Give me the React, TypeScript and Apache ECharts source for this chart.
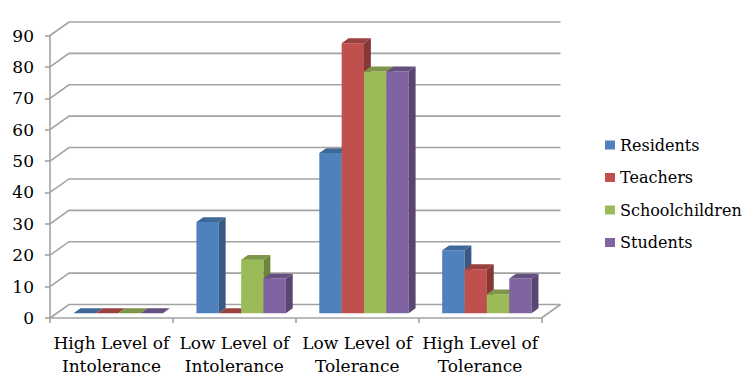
import React, { useEffect, useRef } from "react";
import * as echarts from "echarts";

const categories = [
  "High Level of\nIntolerance",
  "Low Level of\nIntolerance",
  "Low Level of\nTolerance",
  "High Level of\nTolerance",
];
const seriesNames = ["Residents", "Teachers", "Schoolchildren", "Students"];
const residents = [0, 29, 51, 20];
const teachers = [0, 0, 86, 14];
const schoolchildren = [0, 17, 77, 6];
const students = [0, 11, 77, 11];
const seriesValues = [residents, teachers, schoolchildren, students];
const yTicks = [0, 10, 20, 30, 40, 50, 60, 70, 80, 90];
const colors = ["#4F81BD", "#C0504D", "#9BBB59", "#8064A2"];

const DX = 19;
const DY = -13.5;
const BAR_DEPTH = 0.36;
const BAR_FRAC = 0.182;
const LINE_COLOR = "#A3A3A3";
const FONT = "DejaVu Serif";
const FS = 17;
const LEGEND_FS = 16;

function shade(hex: string, f: number): string {
  const n = parseInt(hex.slice(1), 16);
  const r = Math.round(((n >> 16) & 255) * f);
  const g = Math.round(((n >> 8) & 255) * f);
  const b = Math.round((n & 255) * f);
  return "rgb(" + r + "," + g + "," + b + ")";
}

export default function App() {
  const ref = useRef<HTMLDivElement>(null);
  useEffect(() => {
    if (!ref.current) return;
    const chart = echarts.init(ref.current, undefined, { renderer: "svg" });

    const barSeries = seriesNames.map((name, s) => ({
      name,
      type: "custom",
      z: 3,
      itemStyle: { color: colors[s] },
      data: seriesValues[s].map((v, i) => [i, v]),
      encode: { x: 0, y: 1 },
      renderItem: (params: any, api: any) => {
        const cat = api.value(0);
        const v = api.value(1);
        const base = api.coord([cat, 0]);
        const top = api.coord([cat, v]);
        const band = api.size([1, 0])[0];
        const barW = band * BAR_FRAC;
        const groupW = barW * 4;
        const dx = DX * BAR_DEPTH;
        const dy = DY * BAR_DEPTH;
        const fx = base[0] - groupW / 2 + s * barW + dx;
        const fyb = base[1] + dy;
        const fyt = top[1] + dy;
        return {
          type: "group",
          children: [
            {
              type: "rect",
              shape: { x: fx, y: fyt, width: barW, height: fyb - fyt },
              style: { fill: colors[s] },
            },
            {
              type: "polygon",
              shape: {
                points: [
                  [fx + barW, fyt],
                  [fx + barW + dx, fyt + dy],
                  [fx + barW + dx, fyb + dy],
                  [fx + barW, fyb],
                ],
              },
              style: { fill: shade(colors[s], 0.7) },
            },
            {
              type: "polygon",
              shape: {
                points: [
                  [fx, fyt],
                  [fx + dx, fyt + dy],
                  [fx + barW + dx, fyt + dy],
                  [fx + barW, fyt],
                ],
              },
              style: { fill: shade(colors[s], 0.8) },
            },
          ],
        };
      },
    }));

    const wallSeries = {
      name: "wall",
      type: "custom",
      z: 1,
      silent: true,
      data: yTicks.map((v) => [0, v]),
      encode: { x: 0, y: 1 },
      renderItem: (params: any, api: any) => {
        const v = api.value(1);
        const cs = params.coordSys;
        const y = api.coord([0, v])[1];
        const left = cs.x;
        const right = cs.x + cs.width;
        const children: any[] = [
          {
            type: "polyline",
            shape: {
              points: [
                [left, y],
                [left + DX, y + DY],
                [right + DX, y + DY],
              ],
            },
            style: { stroke: LINE_COLOR, lineWidth: 1.6, fill: null },
          },
        ];
        if (v === 0) {
          children.push({
            type: "line",
            shape: { x1: right, y1: y, x2: right + DX, y2: y + DY },
            style: { stroke: LINE_COLOR, lineWidth: 1.6 },
          });
        }
        return { type: "group", children };
      },
    };

    chart.setOption({
      animation: false,
      backgroundColor: "#ffffff",
      grid: { left: 50, right: 209.5, top: 35.5, bottom: 70 },
      legend: {
        data: seriesNames,
        orient: "vertical",
        left: 600,
        top: 132,
        icon: "rect",
        itemWidth: 10,
        itemHeight: 9,
        itemGap: 16.5,
        textStyle: { fontFamily: FONT, fontSize: LEGEND_FS, color: "#000" },
      },
      xAxis: {
        type: "category",
        data: categories,
        axisLine: { show: true, lineStyle: { color: LINE_COLOR, width: 1.6 } },
        axisTick: { show: true, length: 5, lineStyle: { color: LINE_COLOR, width: 1.6 } },
        axisLabel: {
          interval: 0,
          fontFamily: FONT,
          fontSize: FS,
          color: "#000",
          lineHeight: 23,
          margin: 13,
        },
        splitLine: { show: false },
      },
      yAxis: {
        type: "value",
        min: 0,
        max: 90,
        interval: 10,
        axisLine: { show: true, lineStyle: { color: LINE_COLOR, width: 1.6 } },
        axisTick: { show: true, length: 5, lineStyle: { color: LINE_COLOR, width: 1.6 } },
        axisLabel: { fontFamily: FONT, fontSize: FS, color: "#000", margin: 16 },
        splitLine: { show: false },
      },
      series: [wallSeries, ...barSeries],
    });
    return () => chart.dispose();
  }, []);
  return (
    <div
      ref={ref}
      style={{ position: "fixed", left: 0, top: 0, width: 751, height: 388, background: "#fff" }}
    />
  );
}
